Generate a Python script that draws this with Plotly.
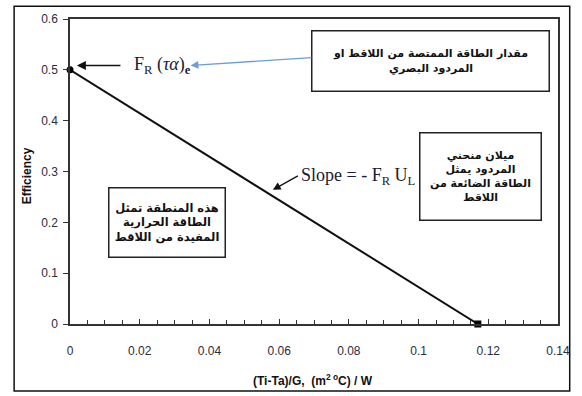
import plotly.graph_objects as go

# ---- data ----
line_x = [0.0, 0.117]
line_y = [0.5, 0.0]
point_symbols = ["circle", "square"]

x_ticks = [0, 0.02, 0.04, 0.06, 0.08, 0.1, 0.12, 0.14]
x_tick_labels = ["0", "0.02", "0.04", "0.06", "0.08", "0.1", "0.12", "0.14"]
y_ticks = [0, 0.1, 0.2, 0.3, 0.4, 0.5, 0.6]
y_tick_labels = ["0", "0.1", "0.2", "0.3", "0.4", "0.5", "0.6"]

x_title = "(Ti-Ta)/G,  (m<sup>2 o</sup>C) / W"
y_title = "Efficiency"

box_absorbed = "مقدار الطاقة الممتصة من اللاقط او<br>المردود البصري"
box_slope = "ميلان منحني<br>المردود يمثل<br>الطاقة الضائعة من<br>اللاقط"
box_region = "هذه المنطقة تمثل<br>الطاقة الحرارية<br>المفيدة من اللاقط"

label_intercept = "F<sub>R</sub> (<i>τα</i>)<sub><b>e</b></sub>"
label_slope = "Slope = - F<sub>R</sub> U<sub>L</sub>"

tick_color = "#2b2b40"
arabic_font = dict(family="DejaVu Sans, Arial", size=11, color="#111111")

fig = go.Figure()
fig.add_trace(go.Scatter(
    x=line_x, y=line_y, mode="lines+markers",
    line=dict(color="#111111", width=2),
    marker=dict(symbol=point_symbols, size=7, color="#000000"),
    showlegend=False, hoverinfo="skip", cliponaxis=False,
))

annotations = [
    # axis titles
    dict(text="<b>" + x_title + "</b>", xref="paper", yref="paper", x=0.498, y=-0.1845,
         xanchor="center", yanchor="middle", showarrow=False,
         font=dict(family="Liberation Sans, Arial", size=12, color="#111111")),
    dict(text="<b>" + y_title + "</b>", xref="paper", yref="paper", x=-0.0863, y=0.487,
         xanchor="center", yanchor="middle", showarrow=False, textangle=-90,
         font=dict(family="Liberation Sans, Arial", size=12, color="#111111")),
    # boxes
    dict(text="<b>" + box_absorbed + "</b>", x=0.1033, y=0.5165, xref="x", yref="y",
         showarrow=False, width=236, height=59, valign="middle", align="center",
         bordercolor="#222222", borderwidth=1.5, borderpad=0, bgcolor="white",
         font=arabic_font),
    dict(text="<b>" + box_slope + "</b>", x=0.1177, y=0.290, xref="x", yref="y",
         showarrow=False, width=120, height=86, valign="middle", align="center",
         bordercolor="#222222", borderwidth=1.5, borderpad=0, bgcolor="white",
         font=arabic_font),
    dict(text="<b>" + box_region + "</b>", x=0.0278, y=0.199, xref="x", yref="y",
         showarrow=False, width=115, height=68, valign="middle", align="center",
         bordercolor="#222222", borderwidth=1.5, borderpad=0, bgcolor="white",
         font=dict(family="DejaVu Sans, Arial", size=11.5, color="#111111")),
    # formula labels
    dict(text=label_intercept, x=0.0177, y=0.5087, xref="x", yref="y",
         xanchor="left", yanchor="middle", showarrow=False,
         font=dict(family="Liberation Serif, serif", size=18, color="#1a1a33")),
    dict(text=label_slope, x=0.0658, y=0.291, xref="x", yref="y",
         xanchor="left", yanchor="middle", showarrow=False,
         font=dict(family="Liberation Serif, serif", size=18, color="#1a1a33")),
    # arrows
    dict(text="", x=0.00197, y=0.5087, ax=0.0149, ay=0.5087,
         xref="x", yref="y", axref="x", ayref="y", showarrow=True,
         arrowhead=2, arrowsize=1.2, arrowwidth=1.5, arrowcolor="#111111"),
    dict(text="", x=0.0346, y=0.5087, ax=0.0697, ay=0.524,
         xref="x", yref="y", axref="x", ayref="y", showarrow=True,
         arrowhead=2, arrowsize=1.2, arrowwidth=1.3, arrowcolor="#6a9fd8"),
    dict(text="", x=0.0582, y=0.264, ax=0.0658, ay=0.293,
         xref="x", yref="y", axref="x", ayref="y", showarrow=True,
         arrowhead=2, arrowsize=1.2, arrowwidth=1.3, arrowcolor="#111111"),
]

fig.update_layout(
    width=582, height=396,
    margin=dict(l=70, r=14, t=15, b=72),
    paper_bgcolor="white", plot_bgcolor="white",
    showlegend=False,
    annotations=annotations,
    shapes=[dict(type="rect", xref="paper", yref="paper",
                 x0=-0.1145, x1=1.024, y0=-0.22, y1=1.042,
                 line=dict(color="#111111", width=1.5), layer="above")],
    xaxis=dict(range=[0, 0.14], tickvals=x_ticks, ticktext=x_tick_labels,
               ticks="inside", ticklen=5, tickwidth=1.2, tickcolor="#333333",
               minor=dict(dtick=0.005, ticks="inside", ticklen=4, tickwidth=1.2, tickcolor="#333333"),
               showline=True, linecolor="#333333", linewidth=1.5, mirror=True,
               showgrid=False, zeroline=False, ticklabelstandoff=15,
               tickfont=dict(family="Liberation Sans, Arial", size=12, color=tick_color)),
    yaxis=dict(range=[0, 0.6], tickvals=y_ticks, ticktext=y_tick_labels,
               ticks="outside", ticklen=5, tickwidth=1.2, tickcolor="#333333",
               showline=True, linecolor="#333333", linewidth=1.5, mirror=True,
               showgrid=False, zeroline=False, ticklabelstandoff=3,
               tickfont=dict(family="Liberation Sans, Arial", size=12, color=tick_color)),
)

fig.write_html("out.html", config={"displayModeBar": False},
               post_script="document.body.style.margin='0';")
